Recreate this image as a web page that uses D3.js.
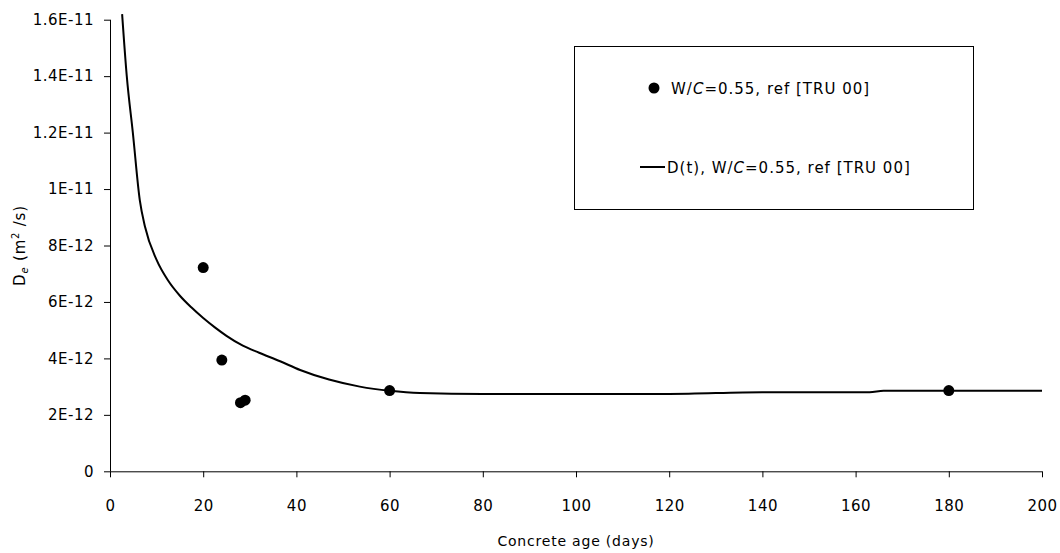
<!DOCTYPE html>
<html>
<head>
<meta charset="utf-8">
<script src="https://cdn.jsdelivr.net/npm/d3@7"></script>
<style>
  html, body { margin: 0; padding: 0; background: #fff; }
  svg { display: block; }
  text { font-family: "Comic Sans MS", "DejaVu Sans", sans-serif; fill: #000; }
</style>
</head>
<body>
<svg id="chart" width="1060" height="553"></svg>
<script>
// Measured points (days, m²/s)
const pointDays = [20, 24, 28, 29, 60, 180];
const pointValues = [7.22e-12, 3.94e-12, 2.43e-12, 2.52e-12, 2.86e-12, 2.86e-12];

// Model curve D(t)
const curveDays = [2.6, 3.6, 4.9, 6.4, 7.5, 10, 12.5, 15, 17.5, 20, 22.5, 25, 28.5, 32, 36.5, 40.8, 47, 53.6, 60, 66.5, 80, 100, 120, 140, 163, 166, 180, 200];
const curveValues = [16.2e-12, 14.0e-12, 12.0e-12, 9.6e-12, 8.67e-12, 7.49e-12, 6.75e-12, 6.22e-12, 5.8e-12, 5.43e-12, 5.1e-12, 4.8e-12, 4.45e-12, 4.2e-12, 3.9e-12, 3.59e-12, 3.25e-12, 3.0e-12, 2.85e-12, 2.77e-12, 2.74e-12, 2.74e-12, 2.74e-12, 2.8e-12, 2.8e-12, 2.85e-12, 2.85e-12, 2.85e-12];

const xTicks = [0, 20, 40, 60, 80, 100, 120, 140, 160, 180, 200];
const yTicks = [0, 2e-12, 4e-12, 6e-12, 8e-12, 1e-11, 1.2e-11, 1.4e-11, 1.6e-11];
const yTickLabels = ["0", "2E-12", "4E-12", "6E-12", "8E-12", "1E-11", "1.2E-11", "1.4E-11", "1.6E-11"];

const legendLabels = ["W/C=0.55, ref [TRU 00]", "D(t), W/C=0.55, ref [TRU 00]"];

const svg = d3.select("#chart");
const mLeft = 110, mRight = 1042, mTop = 19.7, mBottom = 471.3;
const FONT = '"Comic Sans MS", "DejaVu Sans", sans-serif';

const x = d3.scaleLinear().domain([0, 200]).range([mLeft, mRight]);
const y = d3.scaleLinear().domain([0, 1.6e-11]).range([mBottom, mTop]);

// Axes
const xAxis = d3.axisBottom(x).tickValues(xTicks).tickSize(6).tickPadding(23).tickFormat(d3.format("d"));
const gx = svg.append("g").attr("transform", `translate(0,${mBottom})`).call(xAxis);
gx.select(".domain").attr("stroke", "#000").attr("d", `M${mLeft},0.5H${mRight}`);
gx.selectAll(".tick line").attr("stroke", "#000");
gx.selectAll(".tick text").attr("font-size", 15).attr("letter-spacing", 0.5).attr("font-family", FONT);

const yAxis = d3.axisLeft(y).tickValues(yTicks).tickSize(6).tickPadding(10)
  .tickFormat((d, i) => yTickLabels[i]);
const gy = svg.append("g").attr("transform", `translate(${mLeft},0)`).call(yAxis);
gy.select(".domain").attr("stroke", "#000").attr("d", `M0.5,${mTop}V${mBottom}`);
gy.selectAll(".tick line").attr("stroke", "#000");
gy.selectAll(".tick text").attr("font-size", 15).attr("letter-spacing", 0.5).attr("font-family", FONT);

// Axis titles
svg.append("text")
  .attr("x", (mLeft + mRight) / 2).attr("y", 546)
  .attr("text-anchor", "middle").attr("font-size", 14).attr("letter-spacing", 0.8)
  .text("Concrete age (days)");

const yt = svg.append("text")
  .attr("transform", `translate(25,${(mTop + mBottom) / 2}) rotate(-90)`)
  .attr("text-anchor", "middle").attr("font-size", 15).attr("letter-spacing", 0.8);
yt.append("tspan").text("D");
yt.append("tspan").attr("font-size", 10).attr("dy", 3).attr("font-style", "italic").text("e");
yt.append("tspan").attr("dy", -3).text(" (m");
yt.append("tspan").attr("font-size", 10).attr("dy", -6).text("2");
yt.append("tspan").attr("dy", 6).text(" /s)");

// Curve
const line = d3.line()
  .x((d, i) => x(curveDays[i]))
  .y((d, i) => y(curveValues[i]))
  .curve(d3.curveMonotoneX);
svg.append("path")
  .datum(curveDays)
  .attr("d", line)
  .attr("fill", "none").attr("stroke", "#000").attr("stroke-width", 2);

// Points
svg.append("g").selectAll("circle")
  .data(pointDays)
  .join("circle")
  .attr("cx", (d) => x(d))
  .attr("cy", (d, i) => y(pointValues[i]))
  .attr("r", 5.5)
  .attr("fill", "#000");

// Legend
const lg = svg.append("g");
lg.append("rect").attr("x", 574.5).attr("y", 46.5).attr("width", 399).attr("height", 163)
  .attr("fill", "#fff").attr("stroke", "#000").attr("stroke-width", 1);
lg.append("circle").attr("cx", 654).attr("cy", 88).attr("r", 5.5).attr("fill", "#000");
function legendText(t, xx, yy) {
  const el = lg.append("text").attr("x", xx).attr("y", yy).attr("font-size", 15).attr("letter-spacing", 1);
  const parts = t.split("W/C");
  el.append("tspan").text(parts[0] + "W/");
  el.append("tspan").attr("font-style", "italic").text("C");
  el.append("tspan").text(parts[1]);
}
legendText(legendLabels[0], 671, 94);
lg.append("line").attr("x1", 640).attr("x2", 665).attr("y1", 167).attr("y2", 167)
  .attr("stroke", "#000").attr("stroke-width", 2);
legendText(legendLabels[1], 667, 173);
</script>
</body>
</html>
